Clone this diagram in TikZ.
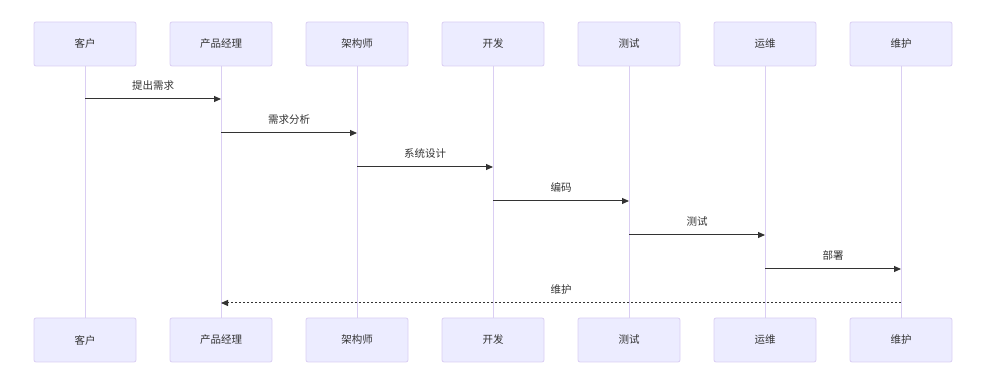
\documentclass[tikz,border=0pt]{standalone}
\usepackage{fontspec}
\setmainfont{Noto Sans CJK SC}
\usetikzlibrary{arrows.meta}
\definecolor{actfill}{HTML}{ECECFF}
\definecolor{actline}{HTML}{DACEF3}
\definecolor{msgline}{HTML}{333333}
\tikzset{
  actor/.style={draw=actline, fill=actfill, rounded corners=2pt, line width=0.8pt,
    minimum width=102pt, minimum height=44pt, inner sep=0pt, font=\fontsize{10.5}{12}\selectfont, text=msgline},
  life/.style={draw=actline, line width=1pt},
  msg/.style={draw=msgline, line width=1pt, -{Triangle[length=7pt,width=6pt]}},
  reply/.style={msg, dash pattern=on 2pt off 2pt},
  lbl/.style={font=\fontsize{10.5}{12}\selectfont, text=msgline, inner sep=0pt}
}
\begin{document}
\begin{tikzpicture}[x=1pt,y=1pt]
\useasboundingbox (0,0) rectangle (988,379);
\foreach \i/\n/\t in {0/a/客户,1/b/产品经理,2/c/架构师,3/d/开发,4/e/测试,5/f/运维,6/g/维护}{
  \node[actor] (\n top) at ({85+136*\i},{379-44}) {\t};
  \node[actor] (\n bot) at ({85+136*\i},{379-340}) {\t};
  \draw[life] (\n top.south) -- (\n bot.north);
}
% messages
\coordinate (m1s) at (atop.south |- 0,{379-99});
\coordinate (m1e) at (btop.south |- 0,{379-99});
\draw[msg] (m1s) -- (m1e) node[lbl, midway, above=8pt] {提出需求};
\coordinate (m2s) at (btop.south |- 0,{379-133});
\coordinate (m2e) at (ctop.south |- 0,{379-133});
\draw[msg] (m2s) -- (m2e) node[lbl, midway, above=8pt] {需求分析};
\coordinate (m3s) at (ctop.south |- 0,{379-167});
\coordinate (m3e) at (dtop.south |- 0,{379-167});
\draw[msg] (m3s) -- (m3e) node[lbl, midway, above=8pt] {系统设计};
\coordinate (m4s) at (dtop.south |- 0,{379-201});
\coordinate (m4e) at (etop.south |- 0,{379-201});
\draw[msg] (m4s) -- (m4e) node[lbl, midway, above=8pt] {编码};
\coordinate (m5s) at (etop.south |- 0,{379-235});
\coordinate (m5e) at (ftop.south |- 0,{379-235});
\draw[msg] (m5s) -- (m5e) node[lbl, midway, above=8pt] {测试};
\coordinate (m6s) at (ftop.south |- 0,{379-269});
\coordinate (m6e) at (gtop.south |- 0,{379-269});
\draw[msg] (m6s) -- (m6e) node[lbl, midway, above=8pt] {部署};
\coordinate (m7s) at (gtop.south |- 0,{379-303});
\coordinate (m7e) at (btop.south |- 0,{379-303});
\draw[reply] (m7s) -- (m7e) node[lbl, midway, above=8pt] {维护};
\end{tikzpicture}
\end{document}
